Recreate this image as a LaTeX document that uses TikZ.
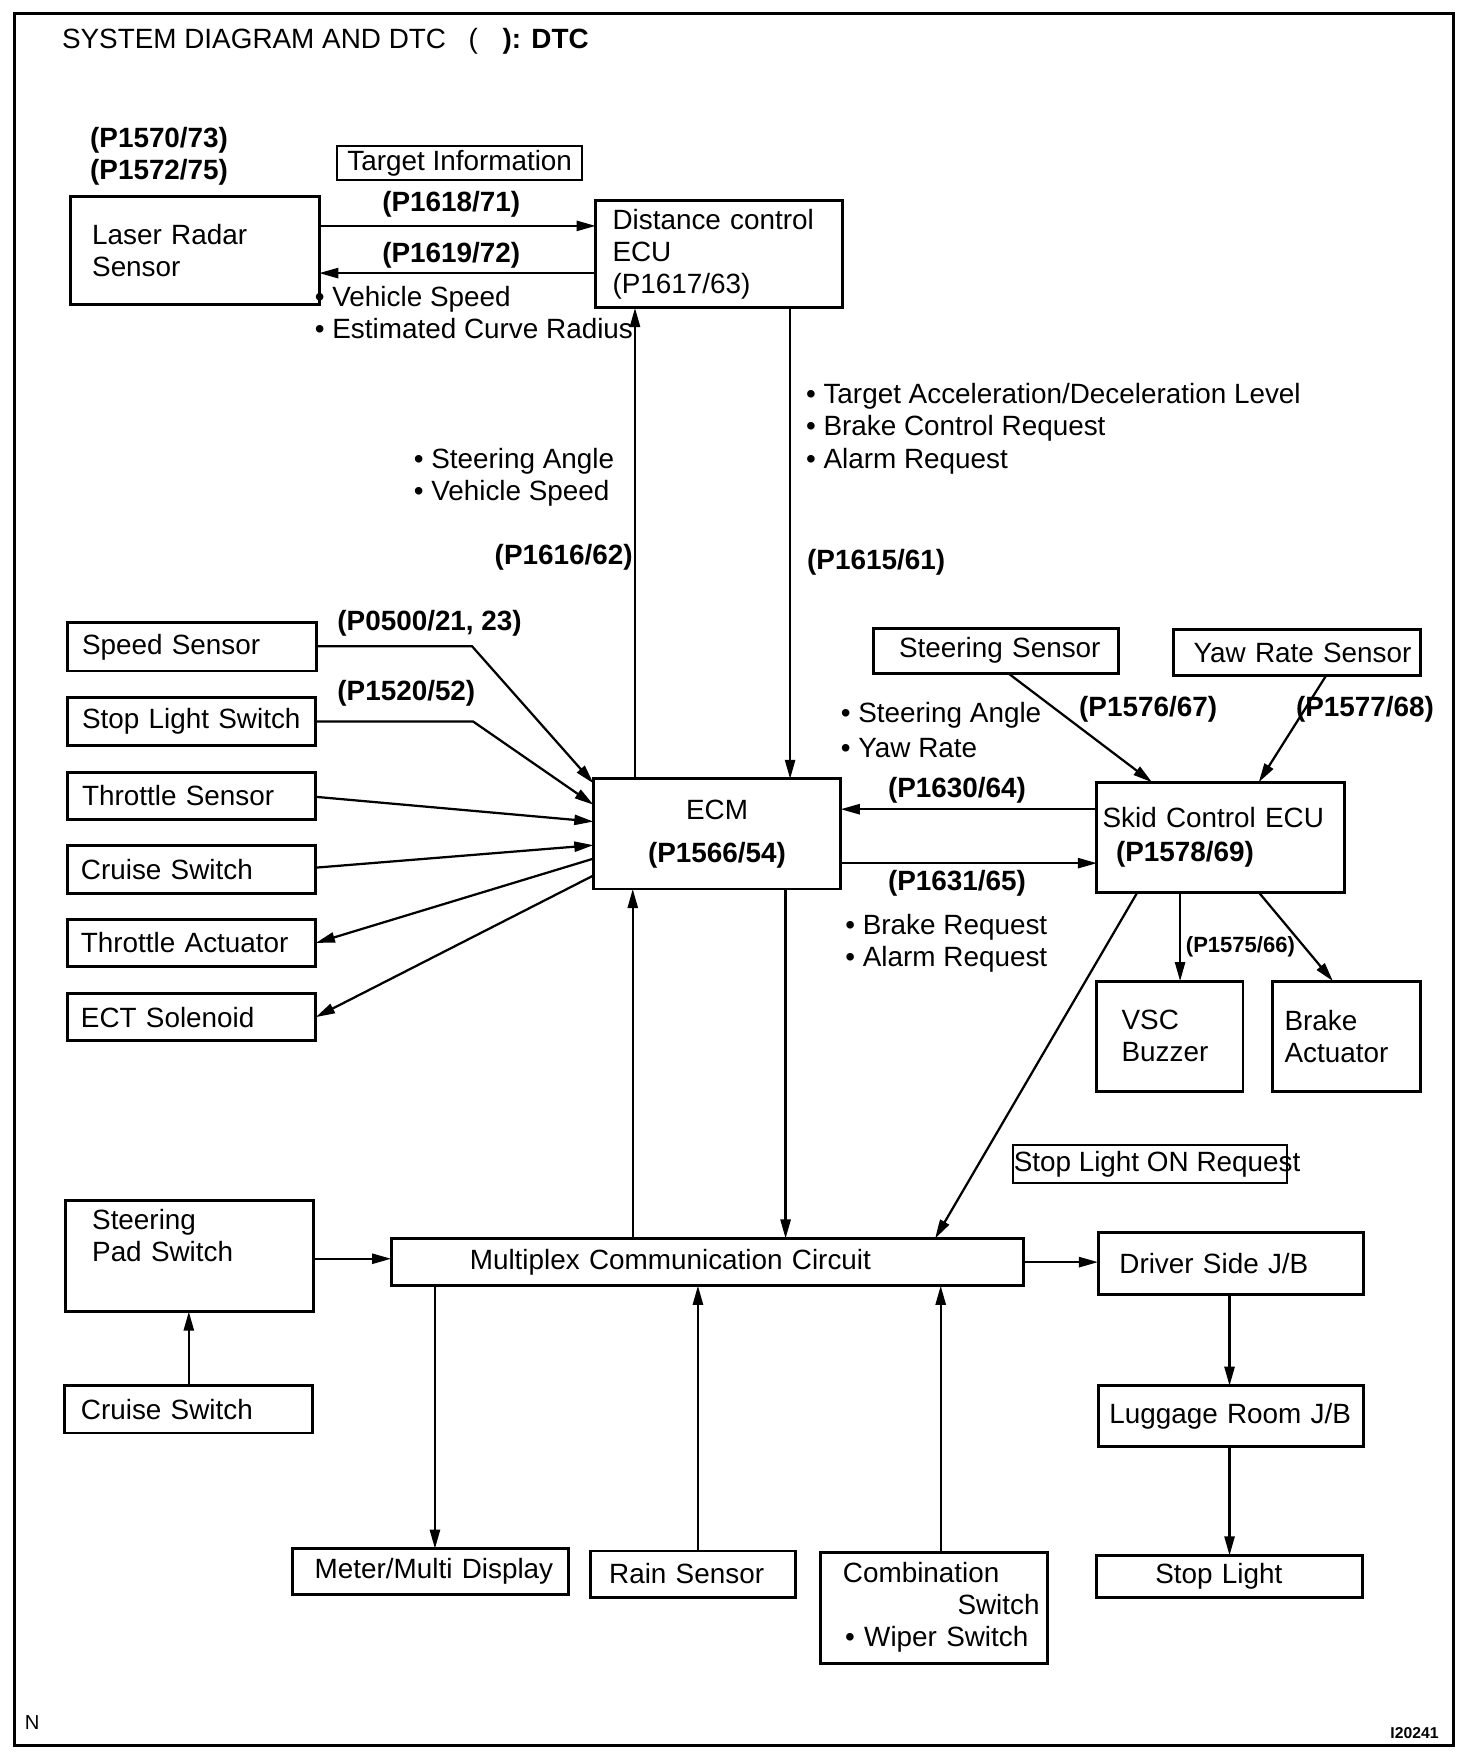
\documentclass[tikz,border=0pt]{standalone}
\usepackage{fontspec}
\setmainfont{Liberation Sans}
\usetikzlibrary{arrows.meta}
\newcommand\fnt{\fontsize{24.8}{28.5}\selectfont}
\newcommand\bx[8][]{%
 \pgfmathsetmacro\bw{#5-#3}%
 \pgfmathsetmacro\bh{#6-#4}%
 \pgfmathsetmacro\tw{#5-#3-2*#7}%
 \node[box, minimum width=\bw pt, minimum height=\bh pt, text width=\tw pt, #1] (#2) at ({(#3+#5)/2},{(#4+#6)/2}) {#8};}
\tikzset{
 box/.style={draw, line width=2.6pt, inner sep=0pt, outer sep=0pt, align=left, font=\fnt},
 txt/.style={inner sep=0pt, anchor=west, align=left, font=\fnt},
 lbl/.style={txt, font=\fnt\bfseries},
 arr/.style={line width=2pt, -{Triangle[length=17pt,width=9pt]}},
 ln/.style={line width=2pt},
}
\begin{document}
\begin{tikzpicture}[x=1pt,y=-1pt]
\useasboundingbox (0,0) rectangle (1311,1566);
\draw[line width=3pt] (13,12) rectangle (1293,1553);

% title and marks
\node[txt] (title) at (55,37) {SYSTEM DIAGRAM AND DTC\hspace{20pt}(\hspace{22pt}\textbf{): DTC}};
\node[txt, font=\fontsize{18}{20}\selectfont] (nmark) at (22,1533) {N};
\node[txt, font=\fontsize{14}{16}\selectfont\bfseries] (code) at (1237,1542) {I20241};

% boxes
\bx{laser}{63}{175}{284}{271}{19}{Laser Radar\\Sensor}
\bx{dist}{530}{178}{750}{274}{15}{\mbox{Distance control}\\ECU\\(P1617/63)}
\node[box, line width=1.8pt, minimum width=218pt, minimum height=30pt] (tinfo) at (409,145) {Target Information};
\bx[align=center]{ecm}{528}{693}{748}{791}{10}{ECM\hspace*{32pt}\\[10pt]\textbf{(P1566/54)}\hspace*{16pt}}
\bx{speed}{60}{554}{282}{597}{13}{\mbox{Speed Sensor}}
\bx{sls}{60}{621}{281}{663}{13}{\mbox{Stop Light Switch}}
\bx{ts}{60}{687}{281}{729}{13}{\mbox{Throttle Sensor}}
\bx{cs}{60}{752}{281}{795}{12}{\mbox{Cruise Switch}}
\bx{ta}{60}{818}{281}{860}{12}{\mbox{Throttle Actuator}}
\bx{ect}{60}{884}{281}{926}{12}{\mbox{ECT Solenoid}}
\bx{ssens}{777}{559}{995}{599}{23}{\mbox{Steering Sensor}}
\bx{yaw}{1044}{560}{1264}{601}{18}{\mbox{Yaw Rate Sensor}}
\bx{skid}{976}{696}{1196}{794}{5}{\mbox{Skid Control ECU}\\[1pt]\hspace*{12pt}\textbf{(P1578/69)}}
\bx{vsc}{976}{873}{1106}{971}{22}{VSC\\Buzzer}
\bx{brake}{1132}{873}{1264}{971}{11}{Brake\\Actuator}
\node[box, line width=1.8pt, minimum width=244pt, minimum height=34pt] (slon) at (1023,1036) {\makebox[244pt][l]{\hspace{1pt}Stop Light ON Request}};
\bx{spad}{58}{1068}{279}{1167}{24}{Steering\\\mbox{Pad Switch}\rule[-36pt]{0pt}{0pt}}
\bx{cruise2}{57}{1233}{278}{1275}{15}{\mbox{Cruise Switch}}
\bx{mux}{348}{1102}{911}{1144}{70}{\mbox{Multiplex Communication Circuit}}
\bx{djb}{977}{1097}{1213}{1152}{19}{\mbox{Driver Side J/B}}
\bx{ljb}{977}{1233}{1213}{1287}{10}{\mbox{Luggage Room J/B}}
\bx{stop}{976}{1384}{1212}{1421}{52}{\mbox{Stop Light}}
\bx{meter}{260}{1378}{506}{1419}{20}{\mbox{Meter/Multi Display}}
\bx{rain}{525}{1380}{708}{1421}{17}{\mbox{Rain Sensor}}
\bx{combo}{730}{1381}{932}{1480}{7}{\hspace*{13pt}Combination\\\hfill Switch\\\hspace*{15pt}\mbox{• Wiper Switch}}

% free labels
\node[lbl] (dtcl) at (80,139) {(P1570/73)\\(P1572/75)};
\node[lbl] (d1618) at (340,182) {(P1618/71)};
\node[lbl] (d1619) at (340,227) {(P1619/72)};
\node[txt] (vs1) at (280,278.5) {• Vehicle Speed\\• Estimated Curve Radius};
\node[txt] (sa1) at (368,425) {• Steering Angle\\• Vehicle Speed};
\node[lbl] (d1616) at (440,496) {(P1616/62)};
\node[txt] (tacc) at (717,381.5) {• Target Acceleration/Deceleration Level\\• Brake Control Request\\• Alarm Request};
\node[lbl] (d1615) at (718,500) {(P1615/61)};
\node[lbl] (d0500) at (300,555) {(P0500/21, 23)};
\node[lbl] (d1520) at (300,617) {(P1520/52)};
\node[txt] (sa2) at (748,649.5) {• Steering Angle\\[2.5pt]• Yaw Rate};
\node[lbl] (d1576) at (960,631) {(P1576/67)};
\node[lbl] (d1577) at (1153,631) {(P1577/68)};
\node[lbl] (d1630) at (790,703) {(P1630/64)};
\node[lbl] (d1631) at (790,786) {(P1631/65)};
\node[txt] (br) at (752,839.5) {• Brake Request\\• Alarm Request};
\node[lbl, font=\fontsize{19.6}{22}\selectfont\bfseries] (d1575) at (1055,842) {(P1575/66)};

% connectors top
\draw[arr] (laser.east |- 0,201) -- (dist.west |- 0,201);
\draw[arr] (dist.west |- 0,243) -- (laser.east |- 0,243);
\draw[arr] (ecm.north -| 565,0) -- (dist.south -| 565,0);
\draw[arr] (dist.south -| 703,0) -- (ecm.north -| 703,0);

% left inputs/outputs
\draw[arr] (speed.east |- 0,575) -- (420,575) -- (ecm.west |- 0,697);
\draw[arr] (sls.east |- 0,642) -- (421,642) -- (ecm.west |- 0,716);
\draw[arr] (ts.east |- 0,709) -- (ecm.west |- 0,731);
\draw[arr] (cs.east |- 0,772) -- (ecm.west |- 0,752);
\draw[arr] (ecm.west |- 0,764) -- (ta.east |- 0,839);
\draw[arr] (ecm.west |- 0,779) -- (ect.east |- 0,905);

% right side
\draw[arr] (ssens.south -| 897,0) -- (skid.north -| 1025,0);
\draw[arr] (yaw.south -| 1180,0) -- (skid.north -| 1120,0);
\draw[arr] (skid.west |- 0,720) -- (ecm.east |- 0,720);
\draw[arr] (ecm.east |- 0,768) -- (skid.west |- 0,768);
\draw[arr] (skid.south -| 1050,0) -- (vsc.north -| 1050,0);
\draw[arr] (skid.south -| 1120,0) -- (brake.north -| 1186,0);
\draw[arr] (skid.south -| 1012,0) -- (mux.north -| 832,0);

% bottom
\draw[arr] (cruise2.north -| 168,0) -- (spad.south -| 168,0);
\draw[arr] (spad.east |- 0,1120) -- (mux.west |- 0,1120);
\draw[arr] (mux.north -| 563,0) -- (ecm.south -| 563,0);
\draw[arr] (ecm.south -| 699,0) -- (mux.north -| 699,0);
\draw[arr] (mux.east |- 0,1123) -- (djb.west |- 0,1123);
\draw[arr] (djb.south -| 1094,0) -- (ljb.north -| 1094,0);
\draw[arr] (ljb.south -| 1094,0) -- (stop.north -| 1094,0);
\draw[arr] (mux.south -| 387,0) -- (meter.north -| 387,0);
\draw[arr] (rain.north -| 621,0) -- (mux.south -| 621,0);
\draw[arr] (combo.north -| 837,0) -- (mux.south -| 837,0);
\end{tikzpicture}
\end{document}
